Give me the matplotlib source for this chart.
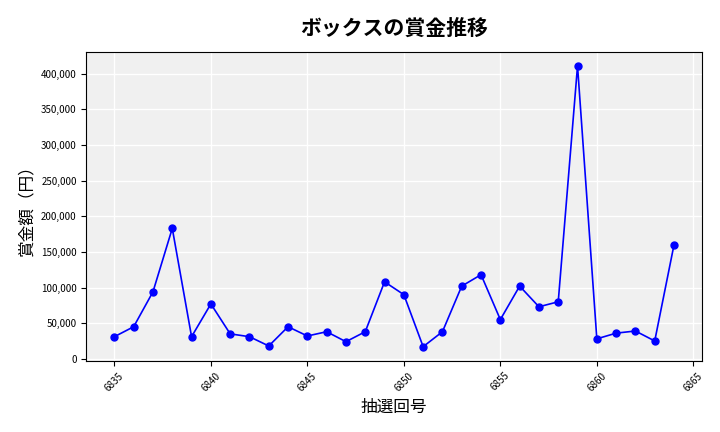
import matplotlib
matplotlib.use("Agg")
import matplotlib.pyplot as plt
from matplotlib.ticker import FuncFormatter

plt.rcParams['font.family'] = ['Noto Sans CJK JP', 'DejaVu Sans']

draws = list(range(6835, 6865))
prizes = [31000, 45000, 94000, 183000, 31000, 77000, 35000, 31000, 18000, 45000,
          32000, 38000, 24000, 38000, 108000, 90000, 17000, 38000, 102000, 118000,
          55000, 102000, 73000, 80000, 411000, 28000, 36000, 39000, 25000, 160000]

fig, ax = plt.subplots(figsize=(7.2, 4.32), dpi=100)
fig.subplots_adjust(left=0.12, right=0.975, top=0.88, bottom=0.165)
ax.set_facecolor('#f0f0f0')
ax.grid(True, color='white', linewidth=1)
ax.set_axisbelow(True)
ax.plot(draws, prizes, color='blue', marker='o', markersize=5, linewidth=1.2)
ax.set_title('ボックスの賞金推移', fontsize=15, fontweight='bold', pad=12)
ax.set_xlabel('抽選回号', fontsize=12)
ax.set_ylabel('賞金額（円）', fontsize=12)
ax.yaxis.set_major_formatter(FuncFormatter(lambda v, p: f'{int(v):,}'))
ax.tick_params(axis='both', labelsize=7)
plt.setp(ax.get_xticklabels(), rotation=45)
fig.savefig('out.png')
